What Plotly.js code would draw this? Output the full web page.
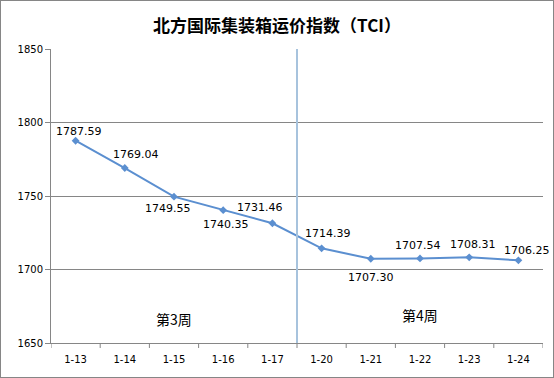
<!DOCTYPE html>
<html><head><meta charset="utf-8">
<script src="https://cdn.plot.ly/plotly-3.0.1.min.js"></script>
<style>
html,body{margin:0;padding:0;background:#fff;}
#wrap{position:relative;width:554px;height:378px;}
#chart{width:554px;height:378px;}
#frame{position:absolute;left:0;top:0;width:552px;height:376px;border:1px solid #868686;pointer-events:none;}
</style>
</head><body>
<div id="wrap"><div id="chart"></div><div id="frame"></div></div>
<script>
const categories = ["1-13","1-14","1-15","1-16","1-17","1-20","1-21","1-22","1-23","1-24"];
const values = [1787.59,1769.04,1749.55,1740.35,1731.46,1714.39,1707.30,1707.54,1708.31,1706.25];
const weekLabels = ["第3周","第4周"];
const weekX = [2,7];
const weekY = [1666,1669];
// label offsets (pixels) — styling only
const labelDx = [3,11,-6,3,-12,6,0,-2,4,9];
const labelDy = [-9,-14,12,14,-16,-15,19,-13,-13,-10];

const font = "DejaVu Sans, Verdana, sans-serif";
const col = "#5B8FD0";
const trace = {
  x: categories.map((c,i)=>i),
  y: values,
  type: "scatter",
  mode: "lines+markers",
  line: {color: col, width: 2},
  marker: {symbol: "diamond", size: 6, color: col},
  cliponaxis: false,
  hoverinfo: "none"
};
const layout = {
  width: 554, height: 378,
  margin: {l: 51, r: 11, t: 49, b: 35},
  paper_bgcolor: "#fff", plot_bgcolor: "#fff",
  showlegend: false,
  title: {text: "北方国际集装箱运价指数（TCI）", x: 0.5, xanchor: "center", y: 0.932, yanchor: "middle",
          font: {family: "Noto Sans CJK SC", size: 17, color: "#000", weight: "bold"}},
  xaxis: {
    type: "linear", range: [-0.5, 9.5],
    tickmode: "array", tickvals: categories.map((c,i)=>i), ticktext: categories,
    showgrid: false, zeroline: false,
    showline: true, linecolor: "#868686", linewidth: 1,
    ticks: "outside", ticklen: 7, tickcolor: "rgba(0,0,0,0)",
    tickfont: {family: font, size: 10, color: "#000"}
  },
  yaxis: {
    range: [1650, 1850], tickvals: [1650,1700,1750,1800,1850],
    showgrid: true, gridcolor: "#868686", gridwidth: 1, zeroline: false,
    showline: true, linecolor: "#868686", linewidth: 1,
    ticks: "outside", ticklen: 5, tickcolor: "#868686",
    tickfont: {family: font, size: 10, color: "#000"}
  },
  shapes: [
    {type: "line", xref: "x", yref: "paper", x0: 4.5, x1: 4.5, y0: 0, y1: 1,
     line: {color: "#A7C3DD", width: 2}},
    ...Array.from({length: 11}, (_, i) => ({type: "line", xref: "x", yref: "paper",
      x0: i - 0.5, x1: i - 0.5, y0: 0, y1: -0.017, line: {color: "#868686", width: 1}}))
  ],
  annotations: [
    ...weekLabels.map((t,i)=>({
      text: t, x: weekX[i], y: weekY[i], xref: "x", yref: "y", showarrow: false,
      font: {family: "Noto Sans CJK SC", size: 14, color: "#000"}
    })),
    ...values.map((v,i)=>({
      text: v.toFixed(2), x: i, y: v, xref: "x", yref: "y", showarrow: false,
      xshift: labelDx[i], yshift: -labelDy[i],
      font: {family: font, size: 11, color: "#000"}
    }))
  ]
};
Plotly.newPlot("chart", [trace], layout, {staticPlot: true, displayModeBar: false});
</script>
</body></html>
